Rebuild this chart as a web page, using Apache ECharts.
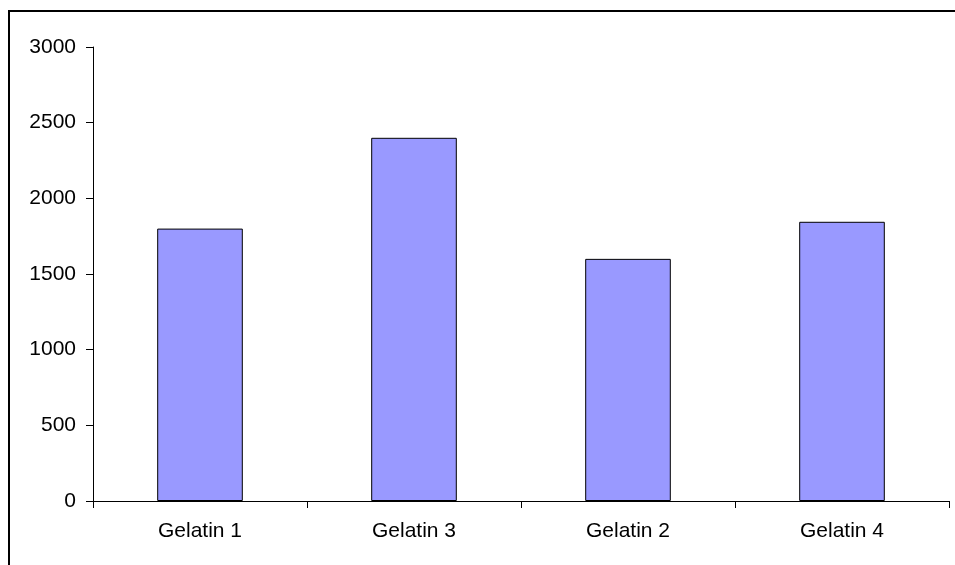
<!DOCTYPE html>
<html>
<head>
<meta charset="utf-8">
<script src="https://cdn.jsdelivr.net/npm/echarts@6/dist/echarts.min.js"></script>
<style>
  html, body { margin: 0; padding: 0; background: #fff; }
  #chart { width: 955px; height: 565px; }
</style>
</head>
<body>
<div id="chart"></div>
<script>
// Bar heights per gelatin sample
const categories = ['Gelatin 1', 'Gelatin 3', 'Gelatin 2', 'Gelatin 4'];
const values = [1800, 2400, 1600, 1845];
const yTicks = [0, 500, 1000, 1500, 2000, 2500, 3000];

const chart = echarts.init(document.getElementById('chart'), null, { renderer: 'canvas' });

const font = '"Liberation Sans", Arial, sans-serif';

chart.setOption({
  animation: false,
  backgroundColor: '#ffffff',
  graphic: [{
    type: 'rect',
    shape: { x: 9, y: 11, width: 960, height: 570 },
    style: { fill: 'none', stroke: '#000', lineWidth: 2 },
    silent: true
  }],
  grid: { left: 93, right: 6, top: 47, bottom: 64 },
  xAxis: {
    type: 'category',
    data: categories,
    axisLine: { lineStyle: { color: '#000', width: 1 } },
    axisTick: { show: true, length: 7, alignWithLabel: false, lineStyle: { color: '#000' } },
    axisLabel: { color: '#000', fontSize: 21, fontFamily: font, margin: 20 },
    splitLine: { show: false }
  },
  yAxis: {
    type: 'value',
    min: yTicks[0],
    max: yTicks[yTicks.length - 1],
    interval: yTicks[1] - yTicks[0],
    axisLine: { show: true, lineStyle: { color: '#000', width: 1 } },
    axisTick: { show: true, length: 7, lineStyle: { color: '#000' } },
    axisLabel: {
      color: '#000', fontSize: 21, fontFamily: font, margin: 17,
      formatter: v => String(v)
    },
    splitLine: { show: false }
  },
  series: [{
    type: 'bar',
    data: values,
    barCategoryGap: '60%',
    itemStyle: { color: '#9999FF', borderColor: '#000', borderWidth: 1 }
  }]
});
</script>
</body>
</html>
